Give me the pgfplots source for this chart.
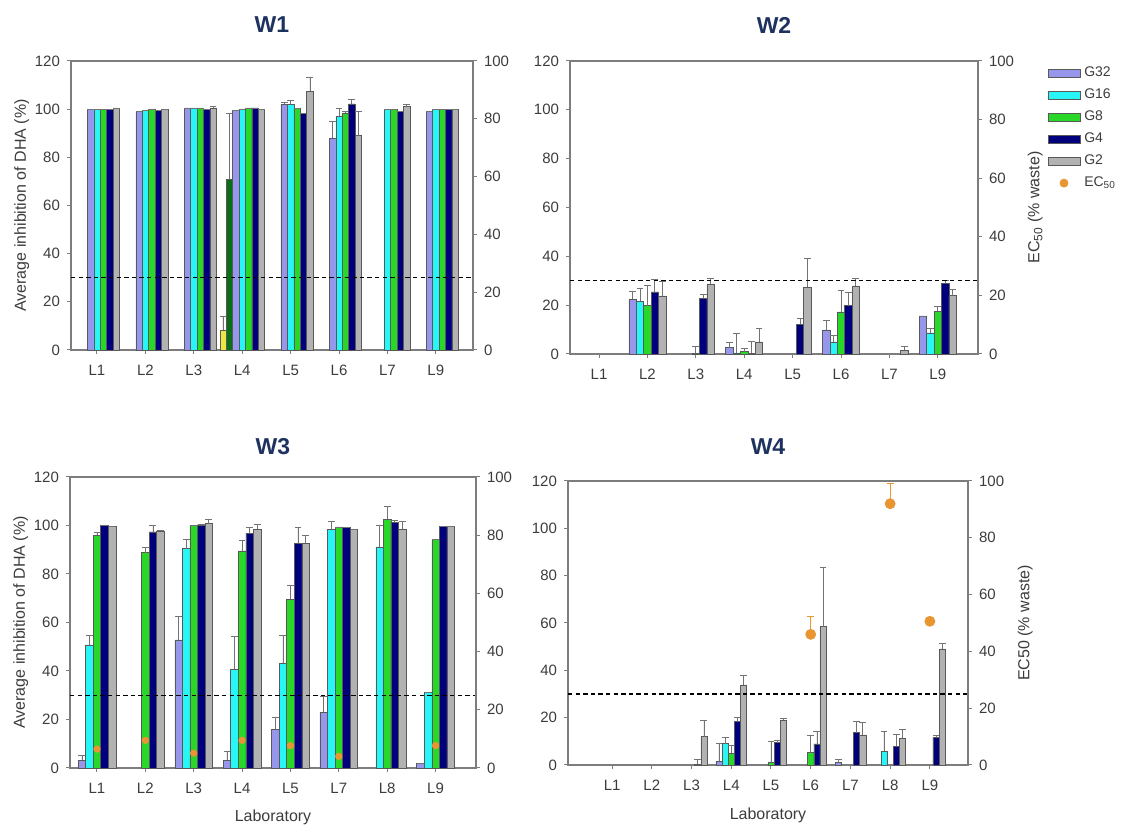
\documentclass[border=0pt]{standalone}
\usepackage{fontspec}
\setmainfont{Liberation Sans}
\usepackage{pgfplots}
\usepackage{pgfplotstable}
\pgfplotsset{compat=1.18}

\definecolor{cG32}{RGB}{150,150,235}
\definecolor{cG16}{RGB}{40,245,245}
\definecolor{cG8}{RGB}{40,215,40}
\definecolor{cG4}{RGB}{0,0,125}
\definecolor{cG2}{RGB}{178,178,178}
\definecolor{cY}{RGB}{235,230,70}
\definecolor{cDG}{RGB}{10,110,20}
\definecolor{cEC}{RGB}{232,150,50}
\definecolor{ttl}{RGB}{30,50,95}
\definecolor{axc}{RGB}{125,125,125}
\definecolor{txc}{RGB}{60,60,60}

% W1: L1 L2 L3 L4 L5 L6 L7 L9
\pgfplotstableread{
x g32 e32 g16 e16 g8 e8 g4 e4 g2 e2
1 100 0 100 0 100 0 100 0 100.5 0
2 99 0 99.5 0 100 0 99.5 0 100 0
3 100.5 0 100.5 0 100.5 0 100 0 100.5 0.5
4 99.5 0 100 0 100.5 0 100.5 0 100 0
5 102 0.8 102 1.7 100.3 0 98.3 0 107.5 5.5
6 88 7 97 3.5 98.5 0.5 102.2 1.8 89 10
7 nan 0 100 0 100 0 99.2 0 101 1.2
8 99 0 100 0 100 0 100 0 100 0
}\wone
\pgfplotstableread{
x y e
4 8.3 5.5
}\woney
\pgfplotstableread{
x y e
4 70.8 27.5
}\woneg

% W2: L1 L2 L3 L4 L5 L6 L7 L9
\pgfplotstableread{
x g32 e32 g16 e16 g8 e8 g4 e4 g2 e2
1 nan 0 nan 0 nan 0 nan 0 nan 0
2 22.4 3.2 21.5 5.5 19.8 8.2 25.4 5.2 23.8 6
3 nan 0 nan 0 0.3 3 22.8 1.6 28.7 2.2
4 2.6 2 0.5 8 1 1.4 0.2 4.8 5 5.5
5 nan 0 nan 0 nan 0 12.2 2.5 27.4 11.8
6 9.9 4 5 2.8 17.2 9 19.8 5.5 27.9 3
7 nan 0 nan 0 nan 0 nan 0 1.5 1.7
8 15.6 0 8.6 2.1 17.5 2 29 1.3 23.9 2.6
}\wtwo

% W3: L1 L2 L3 L4 L5 L7 L8 L9
\pgfplotstableread{
x g32 e32 g16 e16 g8 e8 g4 e4 g2 e2
1 3.2 1.9 50.8 4.1 96 1 100 0 99.5 0
2 nan 0 nan 0 88.8 2.1 97.4 2.7 97.8 0
3 52.8 9.6 90.5 3.7 100.1 0 100.3 0 100.8 1.7
4 3.2 3.7 40.7 13.5 89.5 4.2 96.7 2.5 98.4 2.1
5 16 5 43.2 11.4 69.5 5.9 92.6 6.6 92.6 3.4
6 22.9 6.6 98.4 3.5 99.4 0 99.2 0 98.4 0
7 nan 0 91.2 8.9 102.5 5.2 101.3 1 98.4 3.5
8 2 0 31.1 0 94.2 0 99.6 0 99.6 0
}\wthree
\pgfplotstableread{
x ec
1 6.5
2 9.5
3 5.1
4 9.5
5 7.7
6 4
8 7.7
}\wthreeec

% W4: L1 ... L9
\pgfplotstableread{
x g32 e32 g16 e16 g8 e8 g4 e4 g2 e2
1 nan 0 nan 0 nan 0 nan 0 nan 0
2 nan 0 nan 0 nan 0 nan 0 nan 0
3 nan 0 nan 0 nan 0 0.3 2 12 6.7
4 1.5 7.5 9 2.7 5 3.5 18.3 1.8 33.8 4
5 nan 0 nan 0 1 9 9.4 0.8 19 0.8
6 nan 0 nan 0 5.2 7.5 8.9 5.2 58.5 25
7 1 1.5 nan 0 nan 0 13.7 4.6 12.7 5.2
8 nan 0 5.8 8.3 nan 0 7.9 5 11.2 4
9 nan 0 nan 0 nan 0 11.6 1 49.1 2.5
}\wfour
\pgfplotstableread{
x ec e
6 46 6.2
8 92 7.2
9 50.6 1.2
}\wfourec

\pgfplotsset{
  bars/.style n args={2}{ybar, bar width=#2, bar shift=0pt, fill=#1,
    draw=black!65, line width=0.25pt,
    legend image code/.code={\draw[fill=#1, draw=black!65, line width=0.25pt] (0pt,-1.9pt) rectangle (16pt,1.9pt);},
    error bars/.cd, y dir=plus, y explicit,
    error bar style={line width=0.35pt, black!55},
    error mark options={rotate=90, black!55, mark size=1.7pt, line width=0.35pt}},
  panel/.style={scale only axis, ymin=0, ymax=120, ytick={0,20,...,120},
    axis line style={axc, line width=0.6pt},
    tick align=outside, major tick length=2pt,
    tick style={axc, line width=0.5pt},
    ticklabel style={font=\fontsize{7.5}{9}\selectfont, text=txc},
    xticklabel style={yshift=-2pt},
    /pgf/number format/assume math mode=true,
    xtick pos=bottom, ytick pos=left,
    title style={font=\bfseries\fontsize{11.5}{13}\selectfont, text=ttl, anchor=center, at={(0.5,1)}},
    label style={font=\fontsize{8}{9}\selectfont, text=txc},
    ylabel shift=-4pt, xlabel style={yshift=-1.5pt},
    clip=false},
  rpanel/.style={scale only axis, ymin=0, ymax=100, ytick={0,20,...,100},
    axis y line*=right, axis x line=none,
    axis line style={axc, line width=0.6pt},
    tick align=outside, major tick length=2pt,
    tick style={axc, line width=0.5pt},
    ticklabel style={font=\fontsize{7.5}{9}\selectfont, text=txc},
    /pgf/number format/assume math mode=true,
    label style={font=\fontsize{8}{9}\selectfont, text=txc},
    clip=false},
  dashline/.style={black, dash pattern=on 2.2pt off 1.6pt, line width=0.7pt, forget plot},
  ecmark/.style={only marks, mark=*, mark size=#1, color=cEC, mark options={fill=cEC, draw=cEC},
    error bars/.cd, y dir=plus, y explicit, error bar style={line width=0.4pt, cEC},
    error mark options={rotate=90, cEC, mark size=1.7pt, line width=0.4pt}}
}

\begin{document}
\begin{tikzpicture}
\useasboundingbox (0,0) rectangle (568.5pt,414pt);

% ---------------- W1 ----------------
\begin{axis}[panel, at={(35.5pt,239pt)}, anchor=south west, width=201pt, height=144.5pt,
  xmin=0.463, xmax=8.768, xtick={1,...,8}, xticklabels={L1,L2,L3,L4,L5,L6,L7,L9},
  title={W1}, title style={yshift=12pt},
  ylabel={Average inhibition of DHA (\%)}]
\addplot[bars={cY}{0.1325}] table[x expr=\thisrow{x}-0.3975,y=y,y error=e]{\woney};
\addplot[bars={cDG}{0.1325}] table[x expr=\thisrow{x}-0.265,y=y,y error=e]{\woneg};
\addplot[bars={cG32}{0.1325}] table[x expr=\thisrow{x}-0.1325,y=g32,y error=e32]{\wone};
\addplot[bars={cG16}{0.1325}] table[x=x,y=g16,y error=e16]{\wone};
\addplot[bars={cG8}{0.1325}] table[x expr=\thisrow{x}+0.1325,y=g8,y error=e8]{\wone};
\addplot[bars={cG4}{0.1325}] table[x expr=\thisrow{x}+0.265,y=g4,y error=e4]{\wone};
\addplot[bars={cG2}{0.1325}] table[x expr=\thisrow{x}+0.3975,y=g2,y error=e2]{\wone};
\addplot[dashline] coordinates {(0.463,30) (8.768,30)};
\end{axis}
\begin{axis}[rpanel, at={(35.5pt,239pt)}, anchor=south west, width=201pt, height=144.5pt,
  xmin=0.463, xmax=8.768]
\addplot[draw=none, forget plot] coordinates {(1,0)};
\end{axis}

% ---------------- W2 ----------------
\begin{axis}[panel, at={(285pt,237pt)}, anchor=south west, width=204pt, height=146.5pt,
  xmin=0.4, xmax=8.83, xtick={1,...,8}, xticklabels={L1,L2,L3,L4,L5,L6,L7,L9},
  title={W2}, title style={yshift=12pt},
  legend style={at={(1.17,0.995)}, anchor=north west, draw=none, fill=none,
    font=\fontsize{7}{8}\selectfont, text=txc, row sep=0.6pt, inner sep=0pt,
    cells={anchor=west}}]
\addplot[bars={cG32}{0.153}] table[x expr=\thisrow{x}-0.306,y=g32,y error=e32]{\wtwo};
\addlegendentry{G32}
\addplot[bars={cG16}{0.153}] table[x expr=\thisrow{x}-0.153,y=g16,y error=e16]{\wtwo};
\addlegendentry{G16}
\addplot[bars={cG8}{0.153}] table[x=x,y=g8,y error=e8]{\wtwo};
\addlegendentry{G8}
\addplot[bars={cG4}{0.153}] table[x expr=\thisrow{x}+0.153,y=g4,y error=e4]{\wtwo};
\addlegendentry{G4}
\addplot[bars={cG2}{0.153}] table[x expr=\thisrow{x}+0.306,y=g2,y error=e2]{\wtwo};
\addlegendentry{G2}
\addlegendimage{only marks, mark=*, mark size=2pt, mark options={fill=cEC, draw=cEC},
  legend image code/.code={\fill[cEC] (8pt,0pt) circle (2pt);}}
\addlegendentry{EC\textsubscript{50}}
\addplot[dashline] coordinates {(0.4,30) (8.83,30)};
\end{axis}
\begin{axis}[rpanel, at={(285pt,237pt)}, anchor=south west, width=204pt, height=146.5pt,
  xmin=0.4, xmax=8.83, ylabel={EC\textsubscript{50} (\% waste)}]
\addplot[draw=none, forget plot] coordinates {(1,0)};
\end{axis}

% ---------------- W3 ----------------
\begin{axis}[panel, at={(35pt,30pt)}, anchor=south west, width=203pt, height=145.5pt,
  xmin=0.443, xmax=8.836, xtick={1,...,8}, xticklabels={L1,L2,L3,L4,L5,L7,L8,L9},
  title={W3}, title style={yshift=9pt},
  ylabel={Average inhibition of DHA (\%)}, xlabel={Laboratory}]
\addplot[bars={cG32}{0.156}] table[x expr=\thisrow{x}-0.312,y=g32,y error=e32]{\wthree};
\addplot[bars={cG16}{0.156}] table[x expr=\thisrow{x}-0.156,y=g16,y error=e16]{\wthree};
\addplot[bars={cG8}{0.156}] table[x=x,y=g8,y error=e8]{\wthree};
\addplot[bars={cG4}{0.156}] table[x expr=\thisrow{x}+0.156,y=g4,y error=e4]{\wthree};
\addplot[bars={cG2}{0.156}] table[x expr=\thisrow{x}+0.312,y=g2,y error=e2]{\wthree};
\addplot[dashline] coordinates {(0.443,30) (8.836,30)};
\end{axis}
\begin{axis}[rpanel, at={(35pt,30pt)}, anchor=south west, width=203pt, height=145.5pt,
  xmin=0.443, xmax=8.836]
\addplot[only marks, mark=*, mark size=1.6pt, mark options={fill=cEC, draw=cEC}] table[x=x,y=ec]{\wthreeec};
\end{axis}

% ---------------- W4 ----------------
\begin{axis}[panel, at={(284pt,31.5pt)}, anchor=south west, width=200pt, height=142pt,
  xmin=-0.11, xmax=9.96, xtick={1,...,9}, xticklabels={L1,L2,L3,L4,L5,L6,L7,L8,L9},
  title={W4}, title style={yshift=11pt}, xlabel={Laboratory}]
\addplot[bars={cG32}{0.155}] table[x expr=\thisrow{x}-0.31,y=g32,y error=e32]{\wfour};
\addplot[bars={cG16}{0.155}] table[x expr=\thisrow{x}-0.155,y=g16,y error=e16]{\wfour};
\addplot[bars={cG8}{0.155}] table[x=x,y=g8,y error=e8]{\wfour};
\addplot[bars={cG4}{0.155}] table[x expr=\thisrow{x}+0.155,y=g4,y error=e4]{\wfour};
\addplot[bars={cG2}{0.155}] table[x expr=\thisrow{x}+0.31,y=g2,y error=e2]{\wfour};
\addplot[dashline] coordinates {(-0.11,30) (9.96,30)};
\end{axis}
\begin{axis}[rpanel, at={(284pt,31.5pt)}, anchor=south west, width=200pt, height=142pt,
  xmin=-0.11, xmax=9.96, ylabel={EC50 (\% waste)}]
\addplot[ecmark=2.5pt] table[x=x,y=ec,y error=e]{\wfourec};
\end{axis}
\end{tikzpicture}
\end{document}
